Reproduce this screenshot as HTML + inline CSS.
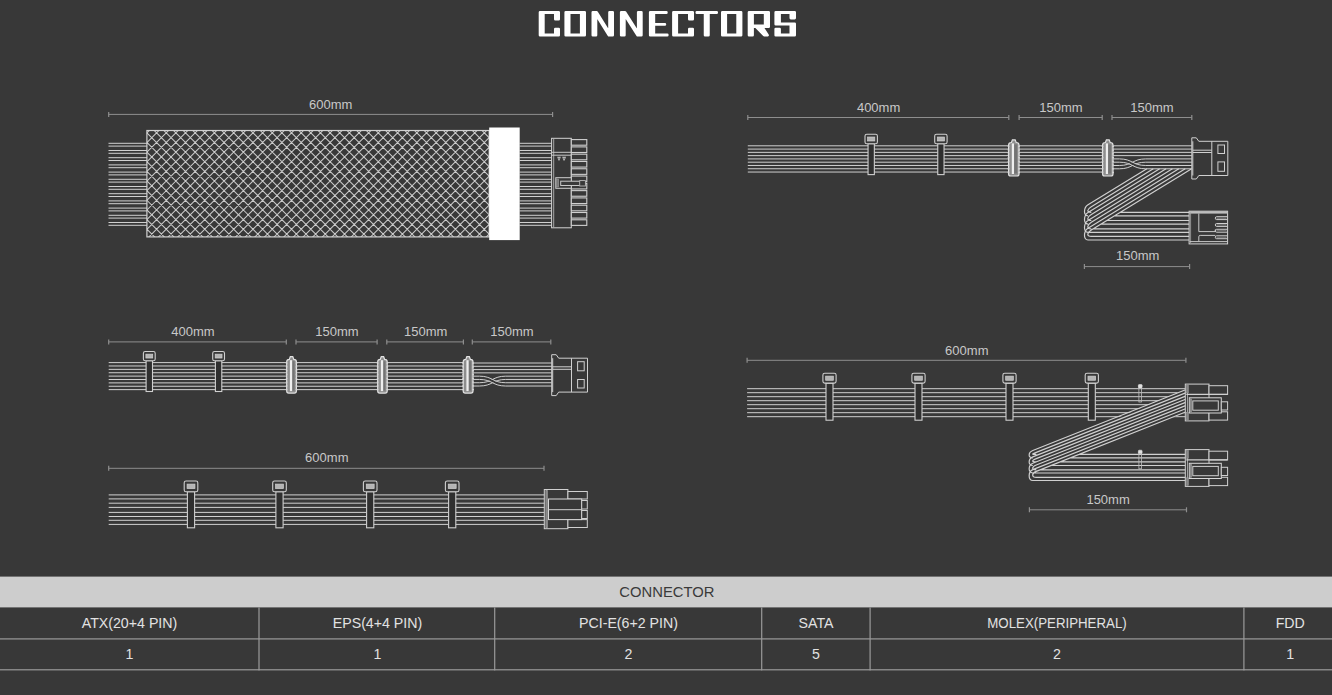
<!DOCTYPE html>
<html><head><meta charset="utf-8"><title>Connectors</title>
<style>
html,body{margin:0;padding:0;background:#383838;width:1332px;height:695px;overflow:hidden}
svg{display:block;font-family:"Liberation Sans",sans-serif}
</style></head><body>
<svg width="1332" height="695" viewBox="0 0 1332 695">
<rect width="1332" height="695" fill="#383838"/>
<path d="M540 12.3 L558.7 12.3 L558.7 19.3 L555.3 19.3 L555.3 12.7 L543.4 12.7 L543.4 34.8 L555.3 34.8 L555.3 29.1 L558.7 29.1 L558.7 35.2 L540 35.2ZM565.7 12.3 L584.7 12.3 L584.7 35.2 L565.7 35.2ZM569.2 12.7 L569.2 34.8 L581.2 34.8 L581.2 12.7ZM592.8 12.3 L596.58 12.3 L609.5 33.05 L609.5 12.3 L612.7 12.3 L612.7 35.2 L608.92 35.2 L596 14.45 L596 35.2 L592.8 35.2ZM621.2 12.3 L624.99 12.3 L638.2 32.94 L638.2 12.3 L641.4 12.3 L641.4 35.2 L637.61 35.2 L624.4 14.56 L624.4 35.2 L621.2 35.2ZM650.2 12.3 L666.4 12.3 L666.4 12.7 L653.9 12.7 L653.9 24.3 L664.9 24.3 L664.9 24.5 L653.9 24.5 L653.9 34.8 L667.3 34.8 L667.3 35.2 L650.2 35.2ZM673.4 12.3 L692.7 12.3 L692.7 19.3 L689.3 19.3 L689.3 12.7 L676.8 12.7 L676.8 34.8 L689.3 34.8 L689.3 29.1 L692.7 29.1 L692.7 35.2 L673.4 35.2ZM696.8 12.3 L716.7 12.3 L716.7 12.7 L708.45 12.7 L708.45 35.2 L705.05 35.2 L705.05 12.7 L696.8 12.7ZM722.3 12.3 L741.1 12.3 L741.1 35.2 L722.3 35.2ZM725.8 12.7 L725.8 34.8 L737.6 34.8 L737.6 12.7ZM749 12.3 L768.7 12.3 L768.7 26.8 L762.09 26.8 L767.59 35.2 L764.15 35.2 L756.05 26.8 L752.6 26.8 L752.6 35.2 L749 35.2ZM752.6 12.7 L752.6 25.8 L765.1 25.8 L765.1 12.7ZM775.7 12.3 L794.7 12.3 L794.7 18.1 L790.8 18.1 L790.8 12.7 L779.6 12.7 L779.6 23.7 L794.7 23.7 L794.7 35.2 L775.7 35.2 L775.7 29.1 L779.6 29.1 L779.6 34.8 L790.8 34.8 L790.8 24.3 L775.7 24.3Z" fill="#fff" fill-rule="evenodd" stroke="#fff" stroke-width="2.6" stroke-linejoin="round"/>
<line x1="108.7" y1="114.4" x2="552.6" y2="114.4" stroke="#8e8e8e" stroke-width="1"/>
<line x1="108.7" y1="111.9" x2="108.7" y2="116.9" stroke="#8e8e8e" stroke-width="1.2"/>
<line x1="552.6" y1="111.9" x2="552.6" y2="116.9" stroke="#8e8e8e" stroke-width="1.2"/>
<text x="330.7" y="108.9" text-anchor="middle" font-size="13" fill="#c8c8c8">600mm</text>
<path d="M108.5 143.3H147M108.5 146.1H147M108.5 150.5H147M108.5 153.3H147M108.5 157.7H147M108.5 160.5H147M108.5 164.9H147M108.5 167.7H147M108.5 172.1H147M108.5 174.9H147M108.5 179.3H147M108.5 182.1H147M108.5 186.5H147M108.5 189.3H147M108.5 193.7H147M108.5 196.5H147M108.5 200.9H147M108.5 203.7H147M108.5 208.1H147M108.5 210.9H147M108.5 215.3H147M108.5 218.1H147M108.5 222.5H147M108.5 225.3H147" stroke="#d0d0d0" stroke-width="1" fill="none"/>
<path d="M519.7 143.3H552M519.7 146.1H552M519.7 150.5H552M519.7 153.3H552M519.7 157.7H552M519.7 160.5H552M519.7 164.9H552M519.7 167.7H552M519.7 172.1H552M519.7 174.9H552M519.7 179.3H552M519.7 182.1H552M519.7 186.5H552M519.7 189.3H552M519.7 193.7H552M519.7 196.5H552M519.7 200.9H552M519.7 203.7H552M519.7 208.1H552M519.7 210.9H552M519.7 215.3H552M519.7 218.1H552M519.7 222.5H552M519.7 225.3H552" stroke="#d0d0d0" stroke-width="1" fill="none"/>
<clipPath id="mclip"><rect x="146.9" y="130.5" width="342.3" height="106.4"/></clipPath>
<g clip-path="url(#mclip)"><path d="M149.98 110.5L3.58 256.9M159.62 110.5L13.22 256.9M169.26 110.5L22.86 256.9M178.9 110.5L32.5 256.9M188.54 110.5L42.14 256.9M198.18 110.5L51.78 256.9M207.82 110.5L61.42 256.9M217.46 110.5L71.06 256.9M227.1 110.5L80.7 256.9M236.74 110.5L90.34 256.9M246.38 110.5L99.98 256.9M256.02 110.5L109.62 256.9M265.66 110.5L119.26 256.9M275.3 110.5L128.9 256.9M284.94 110.5L138.54 256.9M294.58 110.5L148.18 256.9M304.22 110.5L157.82 256.9M313.86 110.5L167.46 256.9M323.5 110.5L177.1 256.9M333.14 110.5L186.74 256.9M342.78 110.5L196.38 256.9M352.42 110.5L206.02 256.9M362.06 110.5L215.66 256.9M371.7 110.5L225.3 256.9M381.34 110.5L234.94 256.9M390.98 110.5L244.58 256.9M400.62 110.5L254.22 256.9M410.26 110.5L263.86 256.9M419.9 110.5L273.5 256.9M429.54 110.5L283.14 256.9M439.18 110.5L292.78 256.9M448.82 110.5L302.42 256.9M458.46 110.5L312.06 256.9M468.1 110.5L321.7 256.9M477.74 110.5L331.34 256.9M487.38 110.5L340.98 256.9M497.02 110.5L350.62 256.9M506.66 110.5L360.26 256.9M516.3 110.5L369.9 256.9M525.94 110.5L379.54 256.9M535.58 110.5L389.18 256.9M545.22 110.5L398.82 256.9M554.86 110.5L408.46 256.9M564.5 110.5L418.1 256.9M574.14 110.5L427.74 256.9M583.78 110.5L437.38 256.9M593.42 110.5L447.02 256.9M603.06 110.5L456.66 256.9M612.7 110.5L466.3 256.9M622.34 110.5L475.94 256.9M631.98 110.5L485.58 256.9M8.92 110.5L155.32 256.9M18.56 110.5L164.96 256.9M28.2 110.5L174.6 256.9M37.84 110.5L184.24 256.9M47.48 110.5L193.88 256.9M57.12 110.5L203.52 256.9M66.76 110.5L213.16 256.9M76.4 110.5L222.8 256.9M86.04 110.5L232.44 256.9M95.68 110.5L242.08 256.9M105.32 110.5L251.72 256.9M114.96 110.5L261.36 256.9M124.6 110.5L271 256.9M134.24 110.5L280.64 256.9M143.88 110.5L290.28 256.9M153.52 110.5L299.92 256.9M163.16 110.5L309.56 256.9M172.8 110.5L319.2 256.9M182.44 110.5L328.84 256.9M192.08 110.5L338.48 256.9M201.72 110.5L348.12 256.9M211.36 110.5L357.76 256.9M221 110.5L367.4 256.9M230.64 110.5L377.04 256.9M240.28 110.5L386.68 256.9M249.92 110.5L396.32 256.9M259.56 110.5L405.96 256.9M269.2 110.5L415.6 256.9M278.84 110.5L425.24 256.9M288.48 110.5L434.88 256.9M298.12 110.5L444.52 256.9M307.76 110.5L454.16 256.9M317.4 110.5L463.8 256.9M327.04 110.5L473.44 256.9M336.68 110.5L483.08 256.9M346.32 110.5L492.72 256.9M355.96 110.5L502.36 256.9M365.6 110.5L512 256.9M375.24 110.5L521.64 256.9M384.88 110.5L531.28 256.9M394.52 110.5L540.92 256.9M404.16 110.5L550.56 256.9M413.8 110.5L560.2 256.9M423.44 110.5L569.84 256.9M433.08 110.5L579.48 256.9M442.72 110.5L589.12 256.9M452.36 110.5L598.76 256.9M462 110.5L608.4 256.9M471.64 110.5L618.04 256.9M481.28 110.5L627.68 256.9" stroke="#cacaca" stroke-width="1.05" fill="none"/></g>
<rect x="146.9" y="130.5" width="342.3" height="106.4" fill="none" stroke="#d0d0d0" stroke-width="1.2"/>
<rect x="489.2" y="127.5" width="30.5" height="112.6" fill="#fff"/>
<rect x="551.6" y="138.3" width="19.7" height="89.5" fill="#383838" stroke="#d4d4d4" stroke-width="1"/>
<line x1="553.7" y1="139" x2="553.7" y2="227.2" stroke="#b4b4b4" stroke-width="0.9"/>
<line x1="552" y1="152.3" x2="571" y2="152.3" stroke="#c8c8c8" stroke-width="1"/>
<line x1="552" y1="155.2" x2="571" y2="155.2" stroke="#c8c8c8" stroke-width="1"/>
<path d="M557.2 156.8H560.8L559.5 160.6H558.5ZM562.2 156.8H566L564.6 160.6H563.5Z" fill="#c8c8c8"/>
<path d="M558.4 157.8H559.6L559.2 159.4H558.8ZM563.4 157.8H564.7L564.2 159.4H563.8Z" fill="#444"/>
<rect x="571.3" y="139.6" width="15.5" height="5.6" fill="#383838" stroke="#d0d0d0" stroke-width="1.1"/>
<rect x="571.3" y="146.89" width="15.5" height="5.6" fill="#383838" stroke="#d0d0d0" stroke-width="1.1"/>
<rect x="571.3" y="154.18" width="15.5" height="5.6" fill="#383838" stroke="#d0d0d0" stroke-width="1.1"/>
<rect x="571.3" y="161.47" width="15.5" height="5.6" fill="#383838" stroke="#d0d0d0" stroke-width="1.1"/>
<rect x="571.3" y="168.76" width="15.5" height="5.6" fill="#383838" stroke="#d0d0d0" stroke-width="1.1"/>
<rect x="571.3" y="176.05" width="15.5" height="5.6" fill="#383838" stroke="#d0d0d0" stroke-width="1.1"/>
<rect x="571.3" y="183.34" width="15.5" height="5.6" fill="#383838" stroke="#d0d0d0" stroke-width="1.1"/>
<rect x="571.3" y="190.63" width="15.5" height="5.6" fill="#383838" stroke="#d0d0d0" stroke-width="1.1"/>
<rect x="571.3" y="197.92" width="15.5" height="5.6" fill="#383838" stroke="#d0d0d0" stroke-width="1.1"/>
<rect x="571.3" y="205.21" width="15.5" height="5.6" fill="#383838" stroke="#d0d0d0" stroke-width="1.1"/>
<rect x="571.3" y="212.5" width="15.5" height="5.6" fill="#383838" stroke="#d0d0d0" stroke-width="1.1"/>
<rect x="571.3" y="219.79" width="15.5" height="5.6" fill="#383838" stroke="#d0d0d0" stroke-width="1.1"/>
<rect x="555.8" y="177.7" width="15.5" height="10.6" fill="#383838" stroke="#cfcfcf" stroke-width="1"/>
<rect x="556.6" y="179" width="2" height="8" fill="#777" stroke="#a0a0a0" stroke-width="0.6"/>
<rect x="560.7" y="181.2" width="22.6" height="4.3" fill="#3a3a3a" stroke="#c8c8c8" stroke-width="1"/>
<rect x="579.7" y="180.6" width="5.7" height="5.4" fill="#383838" stroke="#b8b8b8" stroke-width="0.9"/>
<line x1="747.8" y1="117.5" x2="1008.8" y2="117.5" stroke="#8e8e8e" stroke-width="1"/>
<line x1="747.8" y1="115" x2="747.8" y2="120" stroke="#8e8e8e" stroke-width="1.2"/>
<line x1="1008.8" y1="115" x2="1008.8" y2="120" stroke="#8e8e8e" stroke-width="1.2"/>
<line x1="1019.1" y1="117.5" x2="1102.2" y2="117.5" stroke="#8e8e8e" stroke-width="1"/>
<line x1="1019.1" y1="115" x2="1019.1" y2="120" stroke="#8e8e8e" stroke-width="1.2"/>
<line x1="1102.2" y1="115" x2="1102.2" y2="120" stroke="#8e8e8e" stroke-width="1.2"/>
<line x1="1112" y1="117.5" x2="1191.8" y2="117.5" stroke="#8e8e8e" stroke-width="1"/>
<line x1="1112" y1="115" x2="1112" y2="120" stroke="#8e8e8e" stroke-width="1.2"/>
<line x1="1191.8" y1="115" x2="1191.8" y2="120" stroke="#8e8e8e" stroke-width="1.2"/>
<text x="878.6" y="111.6" text-anchor="middle" font-size="13" fill="#c8c8c8">400mm</text>
<text x="1060.9" y="111.6" text-anchor="middle" font-size="13" fill="#c8c8c8">150mm</text>
<text x="1152" y="111.6" text-anchor="middle" font-size="13" fill="#c8c8c8">150mm</text>
<path d="M747.8 145.8H1113M747.8 149.08H1113M747.8 152.36H1113M747.8 155.64H1113M747.8 158.92H1113M747.8 162.2H1113M747.8 165.48H1113M747.8 168.76H1113M747.8 172.04H1113" stroke="#d0d0d0" stroke-width="1" fill="none"/>
<rect x="868.05" y="143.7" width="6.3" height="30.9" fill="#2f2f2f" stroke="#cfcfcf" stroke-width="1.1"/>
<rect x="865" y="134.3" width="12.4" height="9.4" rx="1.8" fill="#383838" stroke="#cfcfcf" stroke-width="1.1"/>
<rect x="867.6" y="137.03" width="7.19" height="3.95" fill="#b4b4b4" stroke="#d0d0d0" stroke-width="0.7"/>
<rect x="937.75" y="143.7" width="6.3" height="30.9" fill="#2f2f2f" stroke="#cfcfcf" stroke-width="1.1"/>
<rect x="934.7" y="134.3" width="12.4" height="9.4" rx="1.8" fill="#383838" stroke="#cfcfcf" stroke-width="1.1"/>
<rect x="937.3" y="137.03" width="7.19" height="3.95" fill="#b4b4b4" stroke="#d0d0d0" stroke-width="0.7"/>
<path d="M1011.41 142.5 L1012.41 139.9 L1015.19 139.9 L1016.19 142.5 Q1019 142.5 1019 144.9 L1019 174 Q1019 176 1017 176 L1010.6 176 Q1008.6 176 1008.6 174 L1008.6 144.9 Q1008.6 142.5 1011.41 142.5 Z" fill="#8e8e8e" stroke="#e2e2e2" stroke-width="1.2"/>
<rect x="1014.2" y="144.4" width="2.9" height="29.1" fill="#747474"/>
<rect x="1011.8" y="143.4" width="2.2" height="30.6" fill="#eeeeee"/>
<path d="M1007.7 146.4h1.6M1019.9 146.4h-1.6M1007.7 150.13h1.6M1019.9 150.13h-1.6M1007.7 153.86h1.6M1019.9 153.86h-1.6M1007.7 157.59h1.6M1019.9 157.59h-1.6M1007.7 161.31h1.6M1019.9 161.31h-1.6M1007.7 165.04h1.6M1019.9 165.04h-1.6M1007.7 168.77h1.6M1019.9 168.77h-1.6M1007.7 172.5h1.6M1019.9 172.5h-1.6" stroke="#d8d8d8" stroke-width="1.3" fill="none"/>
<path d="M1105.41 142.5 L1106.41 139.9 L1109.19 139.9 L1110.19 142.5 Q1113 142.5 1113 144.9 L1113 174 Q1113 176 1111 176 L1104.6 176 Q1102.6 176 1102.6 174 L1102.6 144.9 Q1102.6 142.5 1105.41 142.5 Z" fill="#8e8e8e" stroke="#e2e2e2" stroke-width="1.2"/>
<rect x="1108.2" y="144.4" width="2.9" height="29.1" fill="#747474"/>
<rect x="1105.8" y="143.4" width="2.2" height="30.6" fill="#eeeeee"/>
<path d="M1101.7 146.4h1.6M1113.9 146.4h-1.6M1101.7 150.13h1.6M1113.9 150.13h-1.6M1101.7 153.86h1.6M1113.9 153.86h-1.6M1101.7 157.59h1.6M1113.9 157.59h-1.6M1101.7 161.31h1.6M1113.9 161.31h-1.6M1101.7 165.04h1.6M1113.9 165.04h-1.6M1101.7 168.77h1.6M1113.9 168.77h-1.6M1101.7 172.5h1.6M1113.9 172.5h-1.6" stroke="#d8d8d8" stroke-width="1.3" fill="none"/>
<path d="M1113 145.8H1192M1113 149.08H1192M1113 152.36H1192M1113 155.64H1192" stroke="#d0d0d0" stroke-width="1" fill="none"/>
<path d="M1113 158.9H1119.4M1113 162.2H1119.4M1113 165.5H1119.4M1113 168.8H1119.4" stroke="#d0d0d0" stroke-width="1" fill="none"/>
<path d="M1119.4 165.5 C1132.55 165.5 1132.55 158.9 1145.7 158.9M1119.4 168.8 C1132.55 168.8 1132.55 162.2 1145.7 162.2" fill="none" stroke="#d0d0d0" stroke-width="1"/>
<path d="M1119.4 159.5 C1132.55 159.5 1132.55 166.1 1145.7 166.1 L1145.7 168.2 C1132.55 168.2 1132.55 161.6 1119.4 161.6 Z" fill="#383838"/>
<path d="M1119.4 158.9 C1132.55 158.9 1132.55 165.5 1145.7 165.5M1119.4 162.2 C1132.55 162.2 1132.55 168.8 1145.7 168.8" fill="none" stroke="#d0d0d0" stroke-width="1"/>
<path d="M1145.7 158.9H1192M1145.7 162.2H1192M1145.7 165.5H1192M1145.7 168.8H1192" stroke="#d0d0d0" stroke-width="1" fill="none"/>
<path d="M1146.9 168.8L1088 204.79C1083.7 207.41 1082.96 215.9 1088 215.9M1114.54 215.9H1190M1153.29 168.8L1091.3 206.68C1087 209.3 1086.26 212.3 1091.3 212.3M1120.44 212.3H1190M1159.68 168.8L1088 212.6C1083.7 215.22 1082.96 224.1 1088 224.1M1101.12 224.1H1190M1166.07 168.8L1091.3 214.48C1087 217.11 1086.26 220.5 1091.3 220.5M1107.01 220.5H1190M1172.46 168.8L1088 220.41C1083.7 223.03 1082.96 232.4 1088 232.4H1190M1178.85 168.8L1091.3 222.29C1087 224.92 1086.26 228.8 1091.3 228.8M1093.43 228.8H1190M1185.24 168.8L1088 228.21C1083.7 230.84 1082.96 240 1088 240H1190M1191.63 168.8L1091.3 230.1C1087 232.73 1086.26 236.4 1091.3 236.4H1190" fill="none" stroke="#d0d0d0" stroke-width="1.2"/>
<path d="M1191.8 137.8 L1196.3 137.8 L1198.8 141.3 L1227.8 141.3 L1227.8 175.5 L1198.8 175.5 L1196.3 179 L1191.8 179Z" fill="#383838" stroke="#d0d0d0" stroke-width="1"/>
<line x1="1211.8" y1="141.3" x2="1211.8" y2="175.5" stroke="#d0d0d0" stroke-width="1"/>
<line x1="1192.8" y1="141.3" x2="1192.8" y2="175.5" stroke="#d0d0d0" stroke-width="1"/>
<line x1="1192.8" y1="150.2" x2="1211.8" y2="150.2" stroke="#d0d0d0" stroke-width="1"/>
<line x1="1192.8" y1="152.5" x2="1211.8" y2="152.5" stroke="#d0d0d0" stroke-width="1"/>
<rect x="1217.9" y="145" width="6.6" height="8.5" fill="none" stroke="#d0d0d0" stroke-width="1"/>
<rect x="1217.9" y="161.9" width="6.6" height="9.4" fill="none" stroke="#d0d0d0" stroke-width="1"/>
<rect x="1189.1" y="211.2" width="38.5" height="32.7" fill="#383838" stroke="#d4d4d4" stroke-width="1"/>
<rect x="1189.1" y="211.2" width="38.5" height="2.4" fill="#bdbdbd"/>
<line x1="1190.6" y1="212" x2="1190.6" y2="243" stroke="#a8a8a8" stroke-width="0.8"/>
<path d="M1198.8 213.5V231.6H1215.3V229.6" fill="none" stroke="#c8c8c8" stroke-width="1"/>
<path d="M1198.8 241.6V236.8Q1198.8 235.4 1200.2 235.4H1215.3" fill="none" stroke="#c8c8c8" stroke-width="1"/>
<path d="M1227 216.7H1216.6Q1215.3 216.7 1215.3 218.15 Q1215.3 219.6 1216.6 219.6H1227" fill="none" stroke="#d0d0d0" stroke-width="1"/>
<rect x="1216.5" y="217.3" width="10" height="1.7" fill="#6a6a6a"/>
<path d="M1227 223.5H1216.6Q1215.3 223.5 1215.3 224.95 Q1215.3 226.4 1216.6 226.4H1227" fill="none" stroke="#d0d0d0" stroke-width="1"/>
<rect x="1216.5" y="224.1" width="10" height="1.7" fill="#6a6a6a"/>
<path d="M1227 229.3H1216.6Q1215.3 229.3 1215.3 230.75 Q1215.3 232.2 1216.6 232.2H1227" fill="none" stroke="#d0d0d0" stroke-width="1"/>
<rect x="1216.5" y="229.9" width="10" height="1.7" fill="#6a6a6a"/>
<path d="M1227 235.8H1216.6Q1215.3 235.8 1215.3 237.25 Q1215.3 238.7 1216.6 238.7H1227" fill="none" stroke="#d0d0d0" stroke-width="1"/>
<rect x="1216.5" y="236.4" width="10" height="1.7" fill="#6a6a6a"/>
<line x1="1189.6" y1="241.6" x2="1227" y2="241.6" stroke="#c8c8c8" stroke-width="1"/>
<line x1="1084.4" y1="266.6" x2="1189.6" y2="266.6" stroke="#8e8e8e" stroke-width="1"/>
<line x1="1084.4" y1="264.1" x2="1084.4" y2="269.1" stroke="#8e8e8e" stroke-width="1.2"/>
<line x1="1189.6" y1="264.1" x2="1189.6" y2="269.1" stroke="#8e8e8e" stroke-width="1.2"/>
<text x="1137.7" y="260.2" text-anchor="middle" font-size="13" fill="#c8c8c8">150mm</text>
<line x1="108.7" y1="341.9" x2="286.3" y2="341.9" stroke="#8e8e8e" stroke-width="1"/>
<line x1="108.7" y1="339.4" x2="108.7" y2="344.4" stroke="#8e8e8e" stroke-width="1.2"/>
<line x1="286.3" y1="339.4" x2="286.3" y2="344.4" stroke="#8e8e8e" stroke-width="1.2"/>
<line x1="296" y1="341.9" x2="377.1" y2="341.9" stroke="#8e8e8e" stroke-width="1"/>
<line x1="296" y1="339.4" x2="296" y2="344.4" stroke="#8e8e8e" stroke-width="1.2"/>
<line x1="377.1" y1="339.4" x2="377.1" y2="344.4" stroke="#8e8e8e" stroke-width="1.2"/>
<line x1="386.8" y1="341.9" x2="463.4" y2="341.9" stroke="#8e8e8e" stroke-width="1"/>
<line x1="386.8" y1="339.4" x2="386.8" y2="344.4" stroke="#8e8e8e" stroke-width="1.2"/>
<line x1="463.4" y1="339.4" x2="463.4" y2="344.4" stroke="#8e8e8e" stroke-width="1.2"/>
<line x1="472.3" y1="341.9" x2="550.8" y2="341.9" stroke="#8e8e8e" stroke-width="1"/>
<line x1="472.3" y1="339.4" x2="472.3" y2="344.4" stroke="#8e8e8e" stroke-width="1.2"/>
<line x1="550.8" y1="339.4" x2="550.8" y2="344.4" stroke="#8e8e8e" stroke-width="1.2"/>
<text x="193" y="336.3" text-anchor="middle" font-size="13" fill="#c8c8c8">400mm</text>
<text x="337" y="336.3" text-anchor="middle" font-size="13" fill="#c8c8c8">150mm</text>
<text x="425.7" y="336.3" text-anchor="middle" font-size="13" fill="#c8c8c8">150mm</text>
<text x="512" y="336.3" text-anchor="middle" font-size="13" fill="#c8c8c8">150mm</text>
<path d="M108.7 362.6H473M108.7 365.98H473M108.7 369.36H473M108.7 372.74H473M108.7 376.12H473M108.7 379.5H473M108.7 382.88H473M108.7 386.26H473M108.7 389.64H473" stroke="#d0d0d0" stroke-width="1" fill="none"/>
<rect x="146.1" y="360.7" width="6.4" height="30.8" fill="#2f2f2f" stroke="#cfcfcf" stroke-width="1.1"/>
<rect x="143.4" y="351.5" width="11.8" height="9.2" rx="1.8" fill="#383838" stroke="#cfcfcf" stroke-width="1.1"/>
<rect x="145.88" y="354.17" width="6.84" height="3.86" fill="#b4b4b4" stroke="#d0d0d0" stroke-width="0.7"/>
<rect x="215.4" y="360.7" width="6.4" height="30.8" fill="#2f2f2f" stroke="#cfcfcf" stroke-width="1.1"/>
<rect x="212.7" y="351.5" width="11.8" height="9.2" rx="1.8" fill="#383838" stroke="#cfcfcf" stroke-width="1.1"/>
<rect x="215.18" y="354.17" width="6.84" height="3.86" fill="#b4b4b4" stroke="#d0d0d0" stroke-width="0.7"/>
<path d="M289.32 359.3 L290.32 356.7 L292.78 356.7 L293.78 359.3 Q296.4 359.3 296.4 361.7 L296.4 391.1 Q296.4 393.1 294.4 393.1 L288.7 393.1 Q286.7 393.1 286.7 391.1 L286.7 361.7 Q286.7 359.3 289.32 359.3 Z" fill="#8e8e8e" stroke="#e2e2e2" stroke-width="1.2"/>
<rect x="292.3" y="361.2" width="2.2" height="29.4" fill="#747474"/>
<rect x="289.9" y="360.2" width="2.2" height="30.9" fill="#eeeeee"/>
<path d="M285.8 363.2h1.6M297.3 363.2h-1.6M285.8 366.97h1.6M297.3 366.97h-1.6M285.8 370.74h1.6M297.3 370.74h-1.6M285.8 374.51h1.6M297.3 374.51h-1.6M285.8 378.29h1.6M297.3 378.29h-1.6M285.8 382.06h1.6M297.3 382.06h-1.6M285.8 385.83h1.6M297.3 385.83h-1.6M285.8 389.6h1.6M297.3 389.6h-1.6" stroke="#d8d8d8" stroke-width="1.3" fill="none"/>
<path d="M380.26 359.3 L381.26 356.7 L383.63 356.7 L384.63 359.3 Q387.2 359.3 387.2 361.7 L387.2 391.1 Q387.2 393.1 385.2 393.1 L379.7 393.1 Q377.7 393.1 377.7 391.1 L377.7 361.7 Q377.7 359.3 380.26 359.3 Z" fill="#8e8e8e" stroke="#e2e2e2" stroke-width="1.2"/>
<rect x="383.3" y="361.2" width="2" height="29.4" fill="#747474"/>
<rect x="380.9" y="360.2" width="2.2" height="30.9" fill="#eeeeee"/>
<path d="M376.8 363.2h1.6M388.1 363.2h-1.6M376.8 366.97h1.6M388.1 366.97h-1.6M376.8 370.74h1.6M388.1 370.74h-1.6M376.8 374.51h1.6M388.1 374.51h-1.6M376.8 378.29h1.6M388.1 378.29h-1.6M376.8 382.06h1.6M388.1 382.06h-1.6M376.8 385.83h1.6M388.1 385.83h-1.6M376.8 389.6h1.6M388.1 389.6h-1.6" stroke="#d8d8d8" stroke-width="1.3" fill="none"/>
<path d="M465.85 359.3 L466.85 356.7 L469.35 356.7 L470.35 359.3 Q473 359.3 473 361.7 L473 391.1 Q473 393.1 471 393.1 L465.2 393.1 Q463.2 393.1 463.2 391.1 L463.2 361.7 Q463.2 359.3 465.85 359.3 Z" fill="#8e8e8e" stroke="#e2e2e2" stroke-width="1.2"/>
<rect x="468.8" y="361.2" width="2.3" height="29.4" fill="#747474"/>
<rect x="466.4" y="360.2" width="2.2" height="30.9" fill="#eeeeee"/>
<path d="M462.3 363.2h1.6M473.9 363.2h-1.6M462.3 366.97h1.6M473.9 366.97h-1.6M462.3 370.74h1.6M473.9 370.74h-1.6M462.3 374.51h1.6M473.9 374.51h-1.6M462.3 378.29h1.6M473.9 378.29h-1.6M462.3 382.06h1.6M473.9 382.06h-1.6M462.3 385.83h1.6M473.9 385.83h-1.6M462.3 389.6h1.6M473.9 389.6h-1.6" stroke="#d8d8d8" stroke-width="1.3" fill="none"/>
<path d="M473 363H552M473 366.29H552M473 369.58H552M473 372.87H552" stroke="#d0d0d0" stroke-width="1" fill="none"/>
<path d="M473 376.16H479.4M473 379.45H479.4M473 382.74H479.4M473 386.03H479.4" stroke="#d0d0d0" stroke-width="1" fill="none"/>
<path d="M479.4 382.74 C492.55 382.74 492.55 376.16 505.7 376.16M479.4 386.03 C492.55 386.03 492.55 379.45 505.7 379.45" fill="none" stroke="#d0d0d0" stroke-width="1"/>
<path d="M479.4 376.76 C492.55 376.76 492.55 383.34 505.7 383.34 L505.7 385.43 C492.55 385.43 492.55 378.85 479.4 378.85 Z" fill="#383838"/>
<path d="M479.4 376.16 C492.55 376.16 492.55 382.74 505.7 382.74M479.4 379.45 C492.55 379.45 492.55 386.03 505.7 386.03" fill="none" stroke="#d0d0d0" stroke-width="1"/>
<path d="M505.7 376.16H552M505.7 379.45H552M505.7 382.74H552M505.7 386.03H552" stroke="#d0d0d0" stroke-width="1" fill="none"/>
<path d="M551.7 354.7 L556.2 354.7 L558.7 358.2 L587.5 358.2 L587.5 392.1 L558.7 392.1 L556.2 395.6 L551.7 395.6Z" fill="#383838" stroke="#d0d0d0" stroke-width="1"/>
<line x1="571.5" y1="358.2" x2="571.5" y2="392.1" stroke="#d0d0d0" stroke-width="1"/>
<line x1="552.7" y1="358.2" x2="552.7" y2="392.1" stroke="#d0d0d0" stroke-width="1"/>
<line x1="552.7" y1="366.8" x2="571.5" y2="366.8" stroke="#d0d0d0" stroke-width="1"/>
<line x1="552.7" y1="369.3" x2="571.5" y2="369.3" stroke="#d0d0d0" stroke-width="1"/>
<rect x="577.6" y="361.7" width="6.6" height="9.1" fill="none" stroke="#d0d0d0" stroke-width="1"/>
<rect x="577.6" y="379.5" width="6.6" height="8.5" fill="none" stroke="#d0d0d0" stroke-width="1"/>
<line x1="108.7" y1="468.3" x2="544" y2="468.3" stroke="#8e8e8e" stroke-width="1"/>
<line x1="108.7" y1="465.8" x2="108.7" y2="470.8" stroke="#8e8e8e" stroke-width="1.2"/>
<line x1="544" y1="465.8" x2="544" y2="470.8" stroke="#8e8e8e" stroke-width="1.2"/>
<text x="326.8" y="462" text-anchor="middle" font-size="13" fill="#c8c8c8">600mm</text>
<path d="M108.7 494.9H545M108.7 498.9H545M108.7 503.2H545M108.7 507.4H545M108.7 512.4H545M108.7 516.5H545M108.7 520.3H545M108.7 524.4H545" stroke="#d0d0d0" stroke-width="1" fill="none"/>
<rect x="187.4" y="491.7" width="7.2" height="36.1" fill="#2f2f2f" stroke="#cfcfcf" stroke-width="1.1"/>
<rect x="184.2" y="481" width="13.6" height="10.7" rx="1.8" fill="#383838" stroke="#cfcfcf" stroke-width="1.1"/>
<rect x="187.06" y="484.1" width="7.89" height="4.49" fill="#b4b4b4" stroke="#d0d0d0" stroke-width="0.7"/>
<rect x="275.9" y="491.7" width="7.2" height="36.1" fill="#2f2f2f" stroke="#cfcfcf" stroke-width="1.1"/>
<rect x="272.7" y="481" width="13.6" height="10.7" rx="1.8" fill="#383838" stroke="#cfcfcf" stroke-width="1.1"/>
<rect x="275.56" y="484.1" width="7.89" height="4.49" fill="#b4b4b4" stroke="#d0d0d0" stroke-width="0.7"/>
<rect x="366.6" y="491.7" width="7.2" height="36.1" fill="#2f2f2f" stroke="#cfcfcf" stroke-width="1.1"/>
<rect x="363.4" y="481" width="13.6" height="10.7" rx="1.8" fill="#383838" stroke="#cfcfcf" stroke-width="1.1"/>
<rect x="366.26" y="484.1" width="7.89" height="4.49" fill="#b4b4b4" stroke="#d0d0d0" stroke-width="0.7"/>
<rect x="448.6" y="491.7" width="7.2" height="36.1" fill="#2f2f2f" stroke="#cfcfcf" stroke-width="1.1"/>
<rect x="445.4" y="481" width="13.6" height="10.7" rx="1.8" fill="#383838" stroke="#cfcfcf" stroke-width="1.1"/>
<rect x="448.26" y="484.1" width="7.89" height="4.49" fill="#b4b4b4" stroke="#d0d0d0" stroke-width="0.7"/>
<rect x="544.3" y="489.5" width="23.6" height="39.2" fill="#383838" stroke="#d0d0d0" stroke-width="1"/>
<rect x="545.8" y="490.5" width="1.7" height="37.2" fill="#8a8a8a" stroke="#9a9a9a" stroke-width="0.6"/>
<rect x="567.9" y="491.5" width="19.4" height="7.5" fill="#383838" stroke="#d0d0d0" stroke-width="1"/>
<rect x="567.9" y="519.6" width="19.4" height="7.9" fill="#383838" stroke="#d0d0d0" stroke-width="1"/>
<rect x="548.5" y="499" width="33.2" height="20.6" fill="#383838" stroke="#d8d8d8" stroke-width="1"/>
<line x1="548.5" y1="509.7" x2="581.7" y2="509.7" stroke="#d0d0d0" stroke-width="1"/>
<rect x="581.7" y="500.5" width="5.6" height="8.5" fill="#383838" stroke="#d0d0d0" stroke-width="1"/>
<rect x="581.7" y="510.5" width="5.6" height="8" fill="#383838" stroke="#d0d0d0" stroke-width="1"/>
<line x1="747.1" y1="360.3" x2="1185.9" y2="360.3" stroke="#8e8e8e" stroke-width="1"/>
<line x1="747.1" y1="357.8" x2="747.1" y2="362.8" stroke="#8e8e8e" stroke-width="1.2"/>
<line x1="1185.9" y1="357.8" x2="1185.9" y2="362.8" stroke="#8e8e8e" stroke-width="1.2"/>
<text x="966.8" y="354.5" text-anchor="middle" font-size="13" fill="#c8c8c8">600mm</text>
<path d="M747.1 388.7H1186M747.1 392.7H1186M747.1 396.7H1186M747.1 400.7H1186M747.1 404.7H1186M747.1 408.7H1186M747.1 412.7H1186M747.1 416.7H1186" stroke="#d0d0d0" stroke-width="1" fill="none"/>
<rect x="826" y="383.1" width="7" height="37.1" fill="#2f2f2f" stroke="#cfcfcf" stroke-width="1.1"/>
<rect x="822.9" y="373.3" width="13.2" height="9.8" rx="1.8" fill="#383838" stroke="#cfcfcf" stroke-width="1.1"/>
<rect x="825.67" y="376.14" width="7.66" height="4.12" fill="#b4b4b4" stroke="#d0d0d0" stroke-width="0.7"/>
<rect x="915" y="383.1" width="7" height="37.1" fill="#2f2f2f" stroke="#cfcfcf" stroke-width="1.1"/>
<rect x="911.9" y="373.3" width="13.2" height="9.8" rx="1.8" fill="#383838" stroke="#cfcfcf" stroke-width="1.1"/>
<rect x="914.67" y="376.14" width="7.66" height="4.12" fill="#b4b4b4" stroke="#d0d0d0" stroke-width="0.7"/>
<rect x="1006" y="383.1" width="7" height="37.1" fill="#2f2f2f" stroke="#cfcfcf" stroke-width="1.1"/>
<rect x="1002.9" y="373.3" width="13.2" height="9.8" rx="1.8" fill="#383838" stroke="#cfcfcf" stroke-width="1.1"/>
<rect x="1005.67" y="376.14" width="7.66" height="4.12" fill="#b4b4b4" stroke="#d0d0d0" stroke-width="0.7"/>
<rect x="1088.3" y="383.1" width="7" height="37.1" fill="#2f2f2f" stroke="#cfcfcf" stroke-width="1.1"/>
<rect x="1085.2" y="373.3" width="13.2" height="9.8" rx="1.8" fill="#383838" stroke="#cfcfcf" stroke-width="1.1"/>
<rect x="1087.97" y="376.14" width="7.66" height="4.12" fill="#b4b4b4" stroke="#d0d0d0" stroke-width="0.7"/>
<rect x="1138.9" y="386.5" width="2.7" height="15.5" fill="none" stroke="#bdbdbd" stroke-width="0.8"/>
<rect x="1138.4" y="384.5" width="3.7" height="3.4" rx="0.8" fill="#e0e0e0" stroke="#e0e0e0" stroke-width="0.6"/>
<path d="M1186.2 388.9 L1186.2 412.3 L1090 450.6 L1040 450.6Z" fill="#383838" stroke="none" stroke-width="1"/>
<path d="M1186.2 389.5L1032.8 450.55C1028.12 452.42 1027.76 457.9 1032.8 457.9M1070.09 457.9H1186M1186.2 392.67L1036.3 452.33C1031.62 454.19 1031.26 454.4 1036.3 454.4M1078.89 454.4H1186M1186.2 395.84L1032.8 456.89C1028.12 458.76 1027.76 465.5 1032.8 465.5M1051 465.5H1186M1186.2 399.01L1036.3 458.67C1031.62 460.53 1031.26 461.9 1036.3 461.9M1060.04 461.9H1186M1186.2 402.18L1032.8 463.23C1028.12 465.1 1027.76 473 1032.8 473H1186M1186.2 405.35L1036.3 465.01C1031.62 466.87 1031.26 469.8 1036.3 469.8M1040.19 469.8H1186M1186.2 408.52L1032.8 469.57C1028.12 471.44 1027.76 480.5 1032.8 480.5H1186M1186.2 411.69L1036.3 471.35C1031.62 473.21 1031.26 477.3 1036.3 477.3H1186" fill="none" stroke="#d0d0d0" stroke-width="1.2"/>
<rect x="1138.9" y="452.2" width="2.7" height="16.6" fill="none" stroke="#bdbdbd" stroke-width="0.8"/>
<rect x="1138.4" y="450.2" width="3.7" height="3.4" rx="0.8" fill="#e0e0e0" stroke="#e0e0e0" stroke-width="0.6"/>
<rect x="1185.3" y="384.1" width="23.7" height="36.8" fill="#383838" stroke="#d0d0d0" stroke-width="1"/>
<rect x="1186.6" y="385.1" width="1.7" height="7.8" fill="#8a8a8a" stroke="#9a9a9a" stroke-width="0.6"/>
<rect x="1186.6" y="412.3" width="1.7" height="7.6" fill="#8a8a8a" stroke="#9a9a9a" stroke-width="0.6"/>
<line x1="1187.5" y1="392.9" x2="1187.5" y2="412.3" stroke="#bdbdbd" stroke-width="0.8"/>
<rect x="1209" y="385.7" width="18.6" height="8.7" fill="#383838" stroke="#d0d0d0" stroke-width="1"/>
<rect x="1209" y="411.8" width="18.6" height="8.3" fill="#383838" stroke="#d0d0d0" stroke-width="1"/>
<line x1="1186.3" y1="394.4" x2="1227.6" y2="394.4" stroke="#d0d0d0" stroke-width="1.3"/>
<rect x="1189.3" y="397.8" width="32" height="15.2" fill="#383838" stroke="#d8d8d8" stroke-width="1"/>
<rect x="1192.8" y="400.9" width="25.5" height="9.3" fill="#383838" stroke="#cfcfcf" stroke-width="1"/>
<rect x="1190.2" y="398.8" width="1.4" height="13.2" fill="#8a8a8a" stroke="#9a9a9a" stroke-width="0.6"/>
<rect x="1221.3" y="401.8" width="6.3" height="8.2" fill="#383838" stroke="#d0d0d0" stroke-width="1"/>
<rect x="1185.3" y="449.6" width="23.7" height="36.8" fill="#383838" stroke="#d0d0d0" stroke-width="1"/>
<rect x="1186.6" y="450.6" width="1.7" height="7.8" fill="#8a8a8a" stroke="#9a9a9a" stroke-width="0.6"/>
<rect x="1186.6" y="477.8" width="1.7" height="7.6" fill="#8a8a8a" stroke="#9a9a9a" stroke-width="0.6"/>
<line x1="1187.5" y1="458.4" x2="1187.5" y2="477.8" stroke="#bdbdbd" stroke-width="0.8"/>
<rect x="1209" y="451.2" width="18.6" height="8.7" fill="#383838" stroke="#d0d0d0" stroke-width="1"/>
<rect x="1209" y="477.3" width="18.6" height="8.3" fill="#383838" stroke="#d0d0d0" stroke-width="1"/>
<line x1="1186.3" y1="459.9" x2="1227.6" y2="459.9" stroke="#d0d0d0" stroke-width="1.3"/>
<rect x="1189.3" y="463.3" width="32" height="15.2" fill="#383838" stroke="#d8d8d8" stroke-width="1"/>
<rect x="1192.8" y="466.4" width="25.5" height="9.3" fill="#383838" stroke="#cfcfcf" stroke-width="1"/>
<rect x="1190.2" y="464.3" width="1.4" height="13.2" fill="#8a8a8a" stroke="#9a9a9a" stroke-width="0.6"/>
<rect x="1221.3" y="467.3" width="6.3" height="8.2" fill="#383838" stroke="#d0d0d0" stroke-width="1"/>
<line x1="1029.4" y1="509.8" x2="1186.5" y2="509.8" stroke="#8e8e8e" stroke-width="1"/>
<line x1="1029.4" y1="507.3" x2="1029.4" y2="512.3" stroke="#8e8e8e" stroke-width="1.2"/>
<line x1="1186.5" y1="507.3" x2="1186.5" y2="512.3" stroke="#8e8e8e" stroke-width="1.2"/>
<text x="1108.1" y="504" text-anchor="middle" font-size="13" fill="#c8c8c8">150mm</text>
<rect x="0" y="576.6" width="1332" height="30.8" fill="#cdcdcd"/>
<text x="666.9" y="596.6" text-anchor="middle" font-size="14.8" fill="#3a3a3a">CONNECTOR</text>
<rect x="0" y="638.3" width="1332" height="1.2" fill="#9a9a9a"/>
<rect x="0" y="669.2" width="1332" height="1.2" fill="#9a9a9a"/>
<rect x="258.4" y="607.4" width="1.2" height="63" fill="#9a9a9a"/>
<rect x="494.1" y="607.4" width="1.2" height="63" fill="#9a9a9a"/>
<rect x="761.1" y="607.4" width="1.2" height="63" fill="#9a9a9a"/>
<rect x="869.5" y="607.4" width="1.2" height="63" fill="#9a9a9a"/>
<rect x="1243.3" y="607.4" width="1.2" height="63" fill="#9a9a9a"/>
<text x="129.5" y="628.1" text-anchor="middle" font-size="14.2" fill="#e2e2e2">ATX(20+4 PIN)</text>
<text x="129.5" y="659.2" text-anchor="middle" font-size="14.2" fill="#e2e2e2">1</text>
<text x="377.5" y="628.1" text-anchor="middle" font-size="14.2" fill="#e2e2e2">EPS(4+4 PIN)</text>
<text x="377.5" y="659.2" text-anchor="middle" font-size="14.2" fill="#e2e2e2">1</text>
<text x="628.5" y="628.1" text-anchor="middle" font-size="14.2" fill="#e2e2e2">PCI-E(6+2 PIN)</text>
<text x="628.5" y="659.2" text-anchor="middle" font-size="14.2" fill="#e2e2e2">2</text>
<text x="816" y="628.1" text-anchor="middle" font-size="14.2" fill="#e2e2e2">SATA</text>
<text x="816" y="659.2" text-anchor="middle" font-size="14.2" fill="#e2e2e2">5</text>
<text x="1057" y="628.1" text-anchor="middle" font-size="14.2" fill="#e2e2e2" textLength="139.5" lengthAdjust="spacingAndGlyphs">MOLEX(PERIPHERAL)</text>
<text x="1057" y="659.2" text-anchor="middle" font-size="14.2" fill="#e2e2e2">2</text>
<text x="1290.3" y="628.1" text-anchor="middle" font-size="14.2" fill="#e2e2e2">FDD</text>
<text x="1290.3" y="659.2" text-anchor="middle" font-size="14.2" fill="#e2e2e2">1</text>
</svg>
</body></html>
